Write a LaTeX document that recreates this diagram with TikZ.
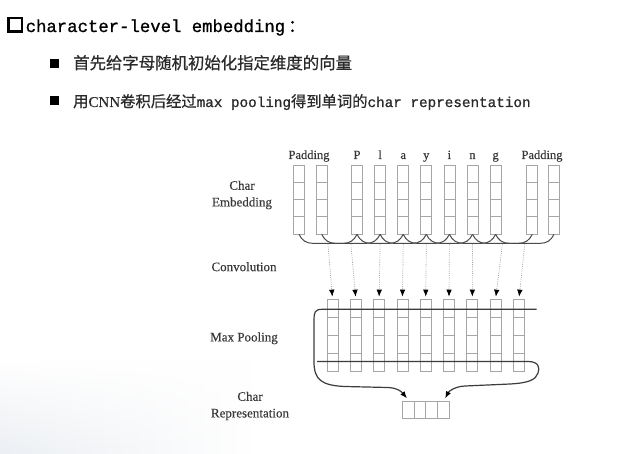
\documentclass[tikz,border=0pt]{standalone}
\usepackage{fontspec}
\usepackage{graphicx}
\setmainfont{Liberation Serif}[FakeBold=0.3]
\setmonofont{Liberation Mono}[FakeBold=0.9]
\newfontfamily\cjkfont{Noto Sans CJK SC}[FakeBold=0.6]
\usetikzlibrary{arrows.meta,calc,fadings}

\definecolor{boxgray}{HTML}{A6A6A6}
\definecolor{linegray}{HTML}{3C3C3C}
\definecolor{bracegray}{HTML}{4A4A4A}
\definecolor{dotgray}{HTML}{A0A0A0}
\definecolor{labeltext}{HTML}{383838}
\definecolor{bodytext}{HTML}{2A2A2A}
\definecolor{haze}{HTML}{ECEFF3}

\tikzset{
  hcells/.style={
    path picture={
      \foreach \f in {0.25,0.5,0.75}
        \draw[boxgray, line width=0.7pt]
          ($(path picture bounding box.north west)!\f!(path picture bounding box.south west)$) --
          ($(path picture bounding box.north east)!\f!(path picture bounding box.south east)$);
    }},
  vcells/.style={
    path picture={
      \foreach \f in {0.25,0.5,0.75}
        \draw[boxgray, line width=0.7pt]
          ($(path picture bounding box.north west)!\f!(path picture bounding box.north east)$) --
          ($(path picture bounding box.south west)!\f!(path picture bounding box.south east)$);
    }},
  embcol/.style={draw=boxgray, line width=0.7pt, inner sep=0pt,
    minimum width=11pt, minimum height=69pt, hcells},
  poolcol/.style={draw=boxgray, line width=0.7pt, inner sep=0pt,
    minimum width=11pt, minimum height=72pt, hcells},
  repbox/.style={draw=boxgray, line width=0.7pt, inner sep=0pt,
    minimum width=47pt, minimum height=16.6pt, vcells},
  chartag/.style={font=\fontsize{12.5}{14}\selectfont, text=labeltext, anchor=base, inner sep=0pt},
  sidelabel/.style={font=\fontsize{13}{16.6}\selectfont, text=labeltext, align=center, inner sep=0pt},
  brace/.style={draw=bracegray, line width=1pt},
  convarrow/.style={draw=dotgray, line width=0.7pt, dash pattern=on 0.9pt off 1.3pt,
    -{Latex[length=7pt,width=5.5pt,black]}, shorten >=2pt},
  poolline/.style={draw=linegray, line width=1.2pt, -{Latex[length=7pt,width=5.5pt,black]}},
  bulletmark/.style={fill=black, minimum size=8.5pt, inner sep=0pt},
}

\begin{document}
\begin{tikzpicture}[x=1pt, y=-1pt]
\useasboundingbox (0,0) rectangle (631,454);
\fill[white] (0,0) rectangle (631,454);
% soft tint along the lower left edge
\shade[left color=haze, right color=white, path fading=north] (0,360) rectangle (260,454);

% ---------- heading and bullet points ----------
\node[draw=black, line width=2.4pt, minimum size=13.6pt, inner sep=0pt] (hsquare) at (15.1,24.9) {};
\node[anchor=base west, inner sep=0pt, text=black, font=\fontsize{17.3}{20}\ttfamily] (htext) at (25.5,32)
  {character-level embedding\hspace{3pt}{\cjkfont ：}};

\node[bulletmark] (bul1) at (54.5,63.5) {};
\node[anchor=base west, inner sep=0pt, text=bodytext, font=\cjkfont\fontsize{16.4}{18}\selectfont] (line1) at (73,69)
  {首先给字母随机初始化指定维度的向量};

\node[bulletmark] (bul2) at (54.5,100.5) {};
\node[anchor=base west, inner sep=0pt, text=bodytext, font=\fontsize{14.3}{18}\selectfont] (line2) at (73,107)
  {{\cjkfont\fontsize{15.3}{18}\selectfont 用}{\rmfamily\fontsize{15}{18}\selectfont CNN}{\cjkfont\fontsize{15.3}{18}\selectfont 卷积后经过}{\ttfamily max pooling}{\cjkfont\fontsize{15.3}{18}\selectfont 得到单词的}{\ttfamily char representation}};

% ---------- character embedding columns ----------
\foreach \x [count=\i from 0] in {299,321.7,357,380.1,403.2,426.3,449.4,472.5,495.6,532.3,554}
  \node[embcol] (emb\i) at (\x,199.5) {};

\node[chartag] (padl) at (309,159) {Padding};
\node[chartag] (padr) at (542,159) {Padding};
\foreach \c [count=\i from 2] in {P,l,a,y,i,n,g}
  \node[chartag] (tag\i) at (emb\i.north |- 0,159) {\c};

% ---------- convolution windows (width 3) ----------
\foreach \k [evaluate=\k as \m using int(\k+2)] in {0,...,8} {
  \draw[brace] (emb\k.south)
    .. controls ($(emb\k.south)+(3,6)$) and ($(emb\k.south)+(7,9)$) .. ($(emb\k.south)+(14,9)$)
    -- ($(emb\m.south)+(-14,9)$)
    .. controls ($(emb\m.south)+(-7,9)$) and ($(emb\m.south)+(-3,6)$) .. (emb\m.south);
  \coordinate (win\k) at ($(emb\k.south)!0.5!(emb\m.south)+(0,10)$);
}

% ---------- feature map columns ----------
\foreach \i in {0,...,8}
  \node[poolcol] (pool\i) at ({332.5+23.3*\i},335) {};

\foreach \k in {0,...,8}
  \draw[convarrow] (win\k) -- (pool\k.north);

% ---------- char representation ----------
\node[repbox] (rep) at (425.8,410) {};
\coordinate (repin1) at ($(rep.north west)+(5,-3)$);
\coordinate (repin2) at ($(rep.north east)+(-4.5,-3)$);

% ---------- max pooling strokes ----------
\coordinate (rowtop) at (536.7,309.3);
\coordinate (rowbot) at (317,361.5);

\draw[poolline] (rowtop) -- (322,309.3)
  .. controls (314.5,309.3) and (314,313) .. (314,320)
  -- (314,362)
  .. controls (314,380) and (322,385.5) .. (345,386.5)
  -- (388,387.5)
  .. controls (397,388) and (401,391) .. (repin1);

\draw[poolline] (rowbot) -- (528,361.5)
  .. controls (539,361.5) and (540,368) .. (538,373)
  .. controls (536,380) and (528,383) .. (510,384)
  -- (465,386)
  .. controls (455,386.5) and (449,391) .. (repin2);

% ---------- stage labels ----------
\node[sidelabel] (lbl1) at (242,195) {Char\\Embedding};
\node[sidelabel] (lbl2) at (244,266.7) {Convolution};
\node[sidelabel] (lbl3) at (244,338.3) {Max Pooling};
\node[sidelabel] (lbl4) at (250,406) {Char\\Representation};
\end{tikzpicture}
\end{document}
